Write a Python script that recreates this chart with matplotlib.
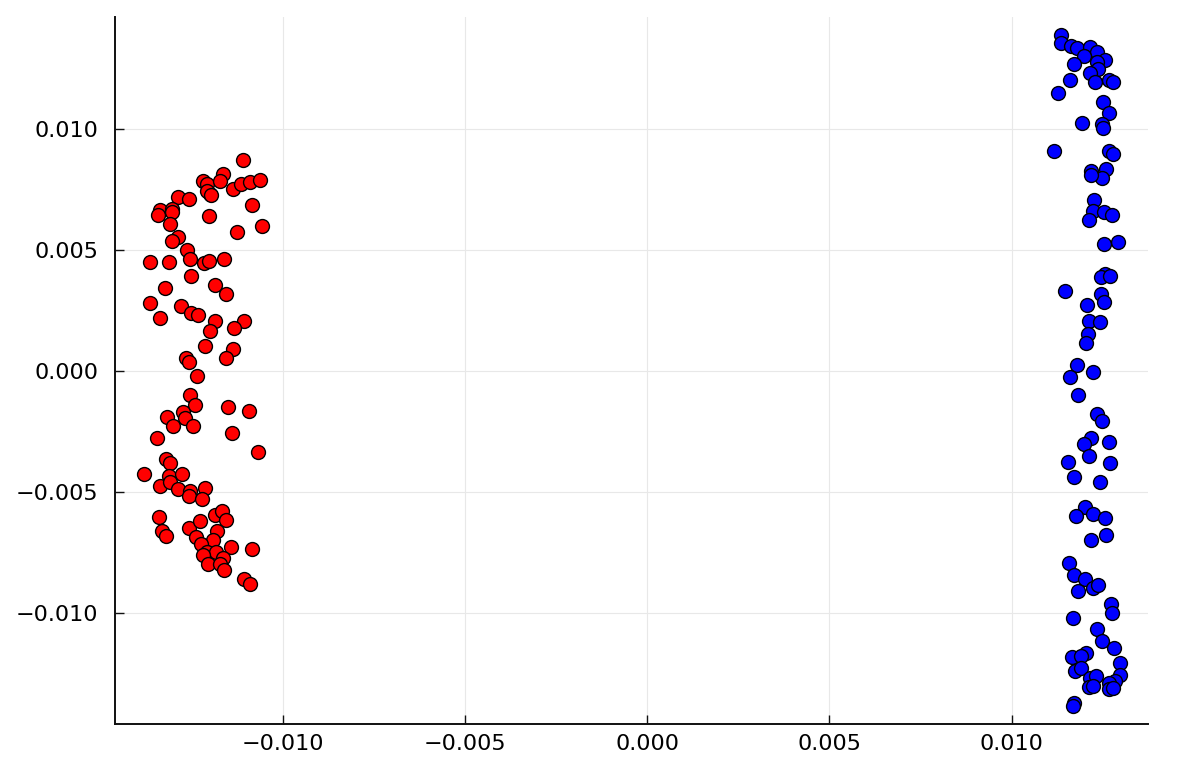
import matplotlib
matplotlib.use("Agg")
import matplotlib.pyplot as plt
from matplotlib.ticker import FuncFormatter

red_x = [-0.01109, -0.01164, -0.01219, -0.01208, -0.01173, -0.01135, -0.01114, -0.01089, -0.01062, -0.01199,
         -0.01208, -0.01196, -0.01083, -0.01286, -0.01256, -0.01336, -0.01304, -0.01343, -0.01303, -0.01202,
         -0.01309, -0.01057, -0.01124, -0.01286, -0.01304, -0.01263, -0.01254, -0.01364, -0.01313, -0.01217,
         -0.01201, -0.01162, -0.01251, -0.01185, -0.01324, -0.01156, -0.01364, -0.01279, -0.01251, -0.01231,
         -0.01336, -0.01185, -0.01106, -0.01199, -0.01133, -0.01213, -0.01137, -0.01155, -0.01266, -0.01256,
         -0.01234, -0.01254, -0.01240, -0.01151, -0.01091, -0.01272, -0.01318, -0.01269, -0.01301, -0.01245,
         -0.01139, -0.01345, -0.01068, -0.01320, -0.01309, -0.01380, -0.01313, -0.01275, -0.01336, -0.01309,
         -0.01286, -0.01254, -0.01258, -0.01213, -0.01222, -0.01339, -0.01331, -0.01320, -0.01256, -0.01226,
         -0.01185, -0.01167, -0.01156, -0.01179, -0.01237, -0.01190, -0.01224, -0.01141, -0.01085, -0.01208,
         -0.01182, -0.01219, -0.01164, -0.01206, -0.01173, -0.01162, -0.01106, -0.01089]
red_y = [0.00874, 0.00815, 0.00787, 0.00774, 0.00787, 0.00753, 0.00774, 0.00783, 0.00791, 0.00732,
         0.00742, 0.00728, 0.00687, 0.00718, 0.00712, 0.00667, 0.00670, 0.00643, 0.00659, 0.00640,
         0.00607, 0.00598, 0.00576, 0.00553, 0.00539, 0.00502, 0.00463, 0.00452, 0.00449, 0.00447,
         0.00453, 0.00463, 0.00391, 0.00356, 0.00342, 0.00319, 0.00280, 0.00267, 0.00238, 0.00233,
         0.00219, 0.00208, 0.00205, 0.00164, 0.00176, 0.00105, 0.00089, 0.00054, 0.00052, 0.00036,
         -0.00022, -0.00098, -0.00139, -0.00148, -0.00167, -0.00171, -0.00189, -0.00196, -0.00228, -0.00229,
         -0.00257, -0.00277, -0.00334, -0.00362, -0.00382, -0.00426, -0.00436, -0.00426, -0.00477, -0.00458,
         -0.00488, -0.00495, -0.00516, -0.00482, -0.00530, -0.00602, -0.00661, -0.00681, -0.00647, -0.00622,
         -0.00596, -0.00578, -0.00616, -0.00661, -0.00688, -0.00698, -0.00716, -0.00726, -0.00734, -0.00746,
         -0.00746, -0.00760, -0.00771, -0.00799, -0.00796, -0.00823, -0.00858, -0.00879]

blue_x = [0.01136, 0.01135, 0.01163, 0.01179, 0.01215, 0.01234, 0.01197, 0.01255, 0.01234, 0.01172,
          0.01238, 0.01215, 0.01229, 0.01266, 0.01279, 0.01160, 0.01128, 0.01250, 0.01266, 0.01193,
          0.01247, 0.01250, 0.01115, 0.01267, 0.01279, 0.01218, 0.01259, 0.01247, 0.01218, 0.01227,
          0.01224, 0.01252, 0.01275, 0.01213, 0.01252, 0.01291, 0.01257, 0.01246, 0.01270, 0.01147,
          0.01246, 0.01252, 0.01206, 0.01213, 0.01243, 0.01209, 0.01204, 0.01179, 0.01222, 0.01160,
          0.01182, 0.01234, 0.01249, 0.01218, 0.01197, 0.01267, 0.01213, 0.01154, 0.01270, 0.01170,
          0.01241, 0.01202, 0.01177, 0.01223, 0.01257, 0.01259, 0.01218, 0.01156, 0.01172, 0.01202,
          0.01224, 0.01238, 0.01182, 0.01273, 0.01275, 0.01167, 0.01234, 0.01249, 0.01281, 0.01165,
          0.01204, 0.01191, 0.01296, 0.01174, 0.01191, 0.01215, 0.01231, 0.01211, 0.01224, 0.01298,
          0.01284, 0.01267, 0.01267, 0.01279, 0.01171, 0.01168]
blue_y = [0.01387, 0.01355, 0.01342, 0.01336, 0.01339, 0.01318, 0.01300, 0.01287, 0.01277, 0.01270,
          0.01249, 0.01231, 0.01194, 0.01204, 0.01194, 0.01201, 0.01150, 0.01111, 0.01066, 0.01024,
          0.01019, 0.01005, 0.00911, 0.00911, 0.00898, 0.00826, 0.00836, 0.00797, 0.00811, 0.00707,
          0.00663, 0.00656, 0.00645, 0.00626, 0.00525, 0.00532, 0.00401, 0.00387, 0.00394, 0.00329,
          0.00319, 0.00284, 0.00273, 0.00205, 0.00201, 0.00153, 0.00114, 0.00025, -0.00003, -0.00025,
          -0.00098, -0.00178, -0.00206, -0.00277, -0.00300, -0.00293, -0.00350, -0.00378, -0.00381, -0.00440,
          -0.00457, -0.00561, -0.00599, -0.00592, -0.00608, -0.00677, -0.00698, -0.00792, -0.00844, -0.00858,
          -0.00895, -0.00884, -0.00909, -0.00962, -0.01001, -0.01022, -0.01067, -0.01116, -0.01144, -0.01181,
          -0.01167, -0.01178, -0.01206, -0.01240, -0.01226, -0.01268, -0.01261, -0.01305, -0.01302, -0.01258,
          -0.01281, -0.01288, -0.01313, -0.01309, -0.01371, -0.01385]

ticks = [-0.010, -0.005, 0.000, 0.005, 0.010]

fig = plt.figure(figsize=(12, 7.75), dpi=100)
ax = fig.add_axes([0.0958, 0.0658, 0.8609, 0.9122])

ax.scatter(red_x, red_y, s=100, c="red", edgecolors="black", linewidths=1.0, zorder=3)
ax.scatter(blue_x, blue_y, s=100, c="blue", edgecolors="black", linewidths=1.0, zorder=3)

ax.set_xlim(-0.0146, 0.01374)
ax.set_ylim(-0.01459, 0.01463)
ax.set_xticks(ticks)
ax.set_yticks(ticks)
fmt = FuncFormatter(lambda v, p: ("\u2212" if v < -1e-12 else "") + f"{abs(v):.3f}")
ax.xaxis.set_major_formatter(fmt)
ax.yaxis.set_major_formatter(fmt)
ax.grid(True, color="#e8e8e8", linewidth=0.8)
ax.set_axisbelow(True)
for s in ["top", "right"]:
    ax.spines[s].set_visible(False)
for s in ["left", "bottom"]:
    ax.spines[s].set_linewidth(1.4)
    ax.spines[s].set_color("#111111")
ax.tick_params(direction="in", length=6.5, width=1, labelsize=16, color="#111111")
ax.tick_params(axis="x", pad=7)
ax.tick_params(axis="y", pad=12)

fig.savefig("out.png", dpi=100)
